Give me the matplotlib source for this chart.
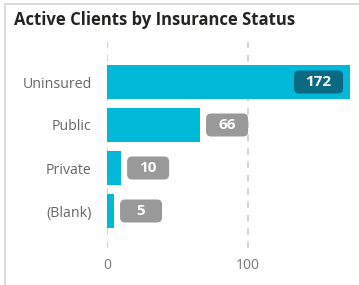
import matplotlib
matplotlib.use("Agg")
import matplotlib.pyplot as plt
from matplotlib.patches import FancyBboxPatch, Rectangle

categories = ["Uninsured", "Public", "Private", "(Blank)"]
values = [172, 66, 10, 5]
xticks = [0, 100]

W, H = 359, 285
fig = plt.figure(figsize=(W / 100, H / 100), dpi=100)
fig.patch.set_facecolor("white")

# card border
card = Rectangle((4.5 / W, -0.05), 1.2, (H - 3.5) / H + 0.05,
                 transform=fig.transFigure, facecolor="white",
                 edgecolor="#d9d9d9", linewidth=1.4, zorder=-5)
fig.patches.append(card)

fig.text(14 / W, 1 - 20 / H, "Active Clients by Insurance Status",
         fontsize=12, fontweight="bold", color="#252423",
         family="Open Sans", va="center", ha="left")

ax_left, ax_top, ax_bottom = 107, 42, 248
xmax = (W - ax_left) / 1.41
ax = fig.add_axes([ax_left / W, 1 - ax_bottom / H, (W - ax_left) / W, (ax_bottom - ax_top) / H])
ax.set_xlim(0, xmax)
ax.set_ylim((ax_bottom - 211) / 43 + 3, -(82 - ax_top) / 43)
for s in ax.spines.values():
    s.set_visible(False)
ax.set_facecolor("none")

ypos = list(range(len(categories)))
ax.barh(ypos, values, height=0.77, color="#01B8D8", zorder=2)
ax.set_yticks(ypos)
ax.set_yticklabels(categories, fontsize=10.2, color="#666666", family="Open Sans")
ax.set_xticks(xticks)
ax.set_xticklabels([str(t) for t in xticks], fontsize=10, color="#777777", family="Open Sans")
ax.tick_params(axis="both", length=0)
ax.tick_params(axis="y", pad=11)
ax.tick_params(axis="x", pad=7)
ax.grid(axis="x", color="#cccccc", linestyle=(0, (4, 4)), linewidth=1.2, zorder=1)

px = xmax / (W - ax_left)  # data units per pixel (x)
py = 1 / 43               # data units per pixel (y)
for i, v in enumerate(values):
    label = str(v)
    bw = 49 if len(label) == 3 else 42
    bh = 23 * py
    if v > 100:
        x1 = v - 6.5 * px
        x0 = x1 - bw * px
        fc = "#0A6A84"
    else:
        x0 = v + 6 * px
        fc = "#999999"
    box = FancyBboxPatch((x0, i - bh / 2), bw * px, bh,
                         boxstyle="round,pad=0,rounding_size=%f" % (5 * px),
                         mutation_aspect=py / px,
                         facecolor=fc, edgecolor="none", zorder=3)
    ax.add_patch(box)
    ax.text(x0 + bw * px / 2, i + 0.01, label, ha="center", va="center",
            fontsize=11, fontweight="bold", color="white",
            family="Open Sans", zorder=4)

fig.savefig("out.png", dpi=100)
